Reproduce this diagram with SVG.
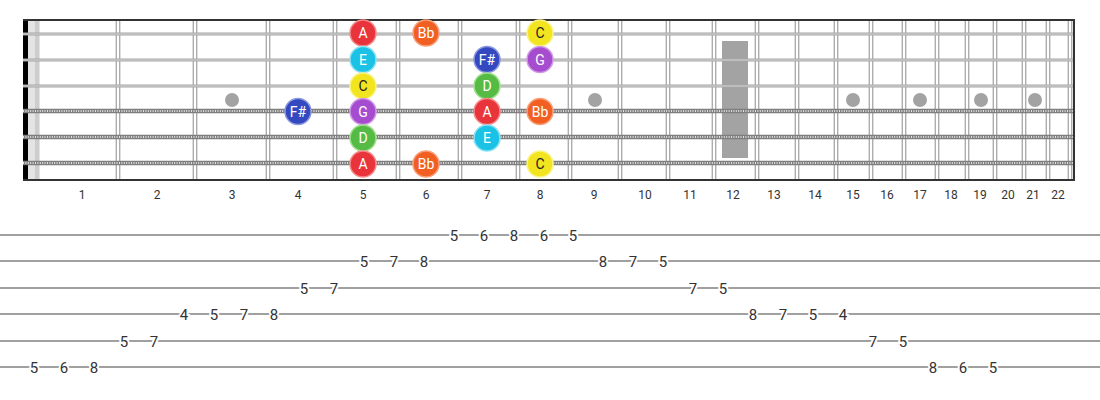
<svg xmlns="http://www.w3.org/2000/svg" width="1100" height="400" viewBox="0 0 1100 400">
<defs>
<style>
.fret{stroke:#adadad;stroke-width:1.4}
.plain{stroke:#a5a5a5;stroke-width:3.2}
.plainc{stroke:#d6d6d6;stroke-width:1}
.wound{stroke:#7e7e7e;stroke-width:4.5}
.woundc{stroke:#e2e2e2;stroke-width:2.2;stroke-dasharray:1 1.4}
.inlay{fill:#a3a3a3}
.fn{font-family:Roboto,"Liberation Sans",sans-serif;font-size:12px;fill:#333;text-anchor:middle}
.tabl{stroke:#a0a0a0;stroke-width:2}
.tn{font-family:Roboto,"Liberation Sans",sans-serif;font-size:15px;fill:#333;text-anchor:middle;stroke:#fff;stroke-width:4;paint-order:stroke}
.nt{font-family:Roboto,"Liberation Sans",sans-serif;font-size:14px;fill:#fff;text-anchor:middle}
.ntd{font-family:Roboto,"Liberation Sans",sans-serif;font-size:14px;fill:#222;text-anchor:middle}
.nA{fill:#e8343a;stroke:#f58a8a;stroke-width:1.5}
.nBb{fill:#f15f22;stroke:#f8a07a;stroke-width:1.5}
.nC{fill:#f2e41e;stroke:#faf38a;stroke-width:1.5}
.nE{fill:#1ac2e6;stroke:#8ae2f5;stroke-width:1.5}
.nFs{fill:#3448c0;stroke:#8a98e0;stroke-width:1.5}
.nG{fill:#a64ccf;stroke:#d09ae8;stroke-width:1.5}
.nD{fill:#56bb45;stroke:#a2e090;stroke-width:1.5}
</style>
</defs>
<rect width="1100" height="400" fill="#fff"/>
<g id="fretboard">
<rect x="28" y="20" width="12" height="160" fill="#e4e4e4"/>
<rect x="35" y="20" width="4" height="160" fill="#cdcdcd"/>
<rect x="23" y="20" width="5" height="160" fill="#000"/>
<g id="frets">
<line class="fret" x1="116.3" y1="20" x2="116.3" y2="180"/><line class="fret" x1="119.7" y1="20" x2="119.7" y2="180"/>
<line class="fret" x1="193.3" y1="20" x2="193.3" y2="180"/><line class="fret" x1="196.7" y1="20" x2="196.7" y2="180"/>
<line class="fret" x1="266.3" y1="20" x2="266.3" y2="180"/><line class="fret" x1="269.7" y1="20" x2="269.7" y2="180"/>
<line class="fret" x1="333.3" y1="20" x2="333.3" y2="180"/><line class="fret" x1="336.7" y1="20" x2="336.7" y2="180"/>
<line class="fret" x1="396.3" y1="20" x2="396.3" y2="180"/><line class="fret" x1="399.7" y1="20" x2="399.7" y2="180"/>
<line class="fret" x1="458.3" y1="20" x2="458.3" y2="180"/><line class="fret" x1="461.7" y1="20" x2="461.7" y2="180"/>
<line class="fret" x1="516.3" y1="20" x2="516.3" y2="180"/><line class="fret" x1="519.7" y1="20" x2="519.7" y2="180"/>
<line class="fret" x1="568.3" y1="20" x2="568.3" y2="180"/><line class="fret" x1="571.7" y1="20" x2="571.7" y2="180"/>
<line class="fret" x1="618.3" y1="20" x2="618.3" y2="180"/><line class="fret" x1="621.7" y1="20" x2="621.7" y2="180"/>
<line class="fret" x1="666.3" y1="20" x2="666.3" y2="180"/><line class="fret" x1="669.7" y1="20" x2="669.7" y2="180"/>
<line class="fret" x1="712.3" y1="20" x2="712.3" y2="180"/><line class="fret" x1="715.7" y1="20" x2="715.7" y2="180"/>
<line class="fret" x1="755.3" y1="20" x2="755.3" y2="180"/><line class="fret" x1="758.7" y1="20" x2="758.7" y2="180"/>
<line class="fret" x1="795.3" y1="20" x2="795.3" y2="180"/><line class="fret" x1="798.7" y1="20" x2="798.7" y2="180"/>
<line class="fret" x1="834.3" y1="20" x2="834.3" y2="180"/><line class="fret" x1="837.7" y1="20" x2="837.7" y2="180"/>
<line class="fret" x1="869.3" y1="20" x2="869.3" y2="180"/><line class="fret" x1="872.7" y1="20" x2="872.7" y2="180"/>
<line class="fret" x1="902.3" y1="20" x2="902.3" y2="180"/><line class="fret" x1="905.7" y1="20" x2="905.7" y2="180"/>
<line class="fret" x1="935.3" y1="20" x2="935.3" y2="180"/><line class="fret" x1="938.7" y1="20" x2="938.7" y2="180"/>
<line class="fret" x1="965.3" y1="20" x2="965.3" y2="180"/><line class="fret" x1="968.7" y1="20" x2="968.7" y2="180"/>
<line class="fret" x1="993.3" y1="20" x2="993.3" y2="180"/><line class="fret" x1="996.7" y1="20" x2="996.7" y2="180"/>
<line class="fret" x1="1022.3" y1="20" x2="1022.3" y2="180"/><line class="fret" x1="1025.7" y1="20" x2="1025.7" y2="180"/>
<line class="fret" x1="1046.3" y1="20" x2="1046.3" y2="180"/><line class="fret" x1="1049.7" y1="20" x2="1049.7" y2="180"/>
<line class="fret" x1="1068.3" y1="20" x2="1068.3" y2="180"/><line class="fret" x1="1071.7" y1="20" x2="1071.7" y2="180"/>
</g>
<g id="inlays">
<circle class="inlay" cx="232" cy="100" r="7"/>
<circle class="inlay" cx="595" cy="100" r="7"/>
<rect class="inlay" x="722" y="41" width="26" height="117"/>
<circle class="inlay" cx="853" cy="100" r="7"/>
<circle class="inlay" cx="920" cy="100" r="7"/>
<circle class="inlay" cx="981" cy="100" r="7"/>
<circle class="inlay" cx="1035" cy="100" r="7"/>
</g>
<g id="strings">
<line class="plain" x1="23" y1="34" x2="1075" y2="34"/><line class="plainc" x1="23" y1="34" x2="1075" y2="34"/>
<line class="plain" x1="23" y1="60" x2="1075" y2="60"/><line class="plainc" x1="23" y1="60" x2="1075" y2="60"/>
<line class="plain" x1="23" y1="86" x2="1075" y2="86"/><line class="plainc" x1="23" y1="86" x2="1075" y2="86"/>
<line class="wound" x1="23" y1="111" x2="1075" y2="111"/><line class="woundc" x1="23" y1="111" x2="1075" y2="111"/>
<line class="wound" x1="23" y1="137" x2="1075" y2="137"/><line class="woundc" x1="23" y1="137" x2="1075" y2="137"/>
<line class="wound" x1="23" y1="163" x2="1075" y2="163"/><line class="woundc" x1="23" y1="163" x2="1075" y2="163"/>
</g>
<line x1="23" y1="20" x2="1075" y2="20" stroke="#333" stroke-width="2"/>
<line x1="23" y1="180" x2="1075" y2="180" stroke="#333" stroke-width="2"/>
<line x1="1074" y1="20" x2="1074" y2="181" stroke="#333" stroke-width="2"/>
</g>
<g id="fret-numbers">
<text class="fn" x="82" y="199">1</text><text class="fn" x="157" y="199">2</text><text class="fn" x="232" y="199">3</text><text class="fn" x="298" y="199">4</text>
<text class="fn" x="363" y="199">5</text><text class="fn" x="426" y="199">6</text><text class="fn" x="487" y="199">7</text><text class="fn" x="540" y="199">8</text>
<text class="fn" x="594" y="199">9</text><text class="fn" x="645" y="199">10</text><text class="fn" x="690" y="199">11</text><text class="fn" x="733" y="199">12</text>
<text class="fn" x="774" y="199">13</text><text class="fn" x="815" y="199">14</text><text class="fn" x="853" y="199">15</text><text class="fn" x="887" y="199">16</text>
<text class="fn" x="920" y="199">17</text><text class="fn" x="951" y="199">18</text><text class="fn" x="980" y="199">19</text><text class="fn" x="1008" y="199">20</text>
<text class="fn" x="1033" y="199">21</text><text class="fn" x="1058" y="199">22</text>
</g>
<g id="notes">
<g id="n1-5"><circle class="nA" cx="363" cy="33" r="13"/><text class="nt" x="363" y="38">A</text></g>
<g id="n1-6"><circle class="nBb" cx="426" cy="33" r="13"/><text class="nt" x="426" y="38">Bb</text></g>
<g id="n1-8"><circle class="nC" cx="540" cy="33" r="13"/><text class="ntd" x="540" y="38">C</text></g>
<g id="n2-5"><circle class="nE" cx="363" cy="59.5" r="13"/><text class="nt" x="363" y="64.5">E</text></g>
<g id="n2-7"><circle class="nFs" cx="487" cy="59.5" r="13"/><text class="nt" x="487" y="64.5">F#</text></g>
<g id="n2-8"><circle class="nG" cx="540" cy="59.5" r="13"/><text class="nt" x="540" y="64.5">G</text></g>
<g id="n3-5"><circle class="nC" cx="363" cy="86" r="13"/><text class="ntd" x="363" y="91">C</text></g>
<g id="n3-7"><circle class="nD" cx="487" cy="86" r="13"/><text class="nt" x="487" y="91">D</text></g>
<g id="n4-4"><circle class="nFs" cx="298" cy="111.5" r="13"/><text class="nt" x="298" y="116.5">F#</text></g>
<g id="n4-5"><circle class="nG" cx="363" cy="111.5" r="13"/><text class="nt" x="363" y="116.5">G</text></g>
<g id="n4-7"><circle class="nA" cx="487" cy="111.5" r="13"/><text class="nt" x="487" y="116.5">A</text></g>
<g id="n4-8"><circle class="nBb" cx="540" cy="111.5" r="13"/><text class="nt" x="540" y="116.5">Bb</text></g>
<g id="n5-5"><circle class="nD" cx="363" cy="138" r="13"/><text class="nt" x="363" y="143">D</text></g>
<g id="n5-7"><circle class="nE" cx="487" cy="138" r="13"/><text class="nt" x="487" y="143">E</text></g>
<g id="n6-5"><circle class="nA" cx="363" cy="164" r="13"/><text class="nt" x="363" y="169">A</text></g>
<g id="n6-6"><circle class="nBb" cx="426" cy="164" r="13"/><text class="nt" x="426" y="169">Bb</text></g>
<g id="n6-8"><circle class="nC" cx="540" cy="164" r="13"/><text class="ntd" x="540" y="169">C</text></g>
</g>
<g id="tab">
<line class="tabl" x1="0" y1="235" x2="1100" y2="235"/>
<line class="tabl" x1="0" y1="261" x2="1100" y2="261"/>
<line class="tabl" x1="0" y1="288" x2="1100" y2="288"/>
<line class="tabl" x1="0" y1="314" x2="1100" y2="314"/>
<line class="tabl" x1="0" y1="341" x2="1100" y2="341"/>
<line class="tabl" x1="0" y1="367" x2="1100" y2="367"/>
<g id="tab-numbers">
<text class="tn" x="34" y="372.5">5</text><text class="tn" x="64" y="372.5">6</text><text class="tn" x="94" y="372.5">8</text>
<text class="tn" x="124" y="346.5">5</text><text class="tn" x="154" y="346.5">7</text>
<text class="tn" x="184" y="319.5">4</text><text class="tn" x="214" y="319.5">5</text><text class="tn" x="244" y="319.5">7</text><text class="tn" x="274" y="319.5">8</text>
<text class="tn" x="304" y="293.5">5</text><text class="tn" x="334" y="293.5">7</text>
<text class="tn" x="364" y="266.5">5</text><text class="tn" x="394" y="266.5">7</text><text class="tn" x="424" y="266.5">8</text>
<text class="tn" x="454" y="240.5">5</text><text class="tn" x="484" y="240.5">6</text><text class="tn" x="514" y="240.5">8</text><text class="tn" x="544" y="240.5">6</text><text class="tn" x="573" y="240.5">5</text>
<text class="tn" x="603" y="266.5">8</text><text class="tn" x="633" y="266.5">7</text><text class="tn" x="663" y="266.5">5</text>
<text class="tn" x="693" y="293.5">7</text><text class="tn" x="723" y="293.5">5</text>
<text class="tn" x="753" y="319.5">8</text><text class="tn" x="783" y="319.5">7</text><text class="tn" x="813" y="319.5">5</text><text class="tn" x="843" y="319.5">4</text>
<text class="tn" x="873" y="346.5">7</text><text class="tn" x="903" y="346.5">5</text>
<text class="tn" x="933" y="372.5">8</text><text class="tn" x="963" y="372.5">6</text><text class="tn" x="993" y="372.5">5</text>
</g>
</g>
</svg>
